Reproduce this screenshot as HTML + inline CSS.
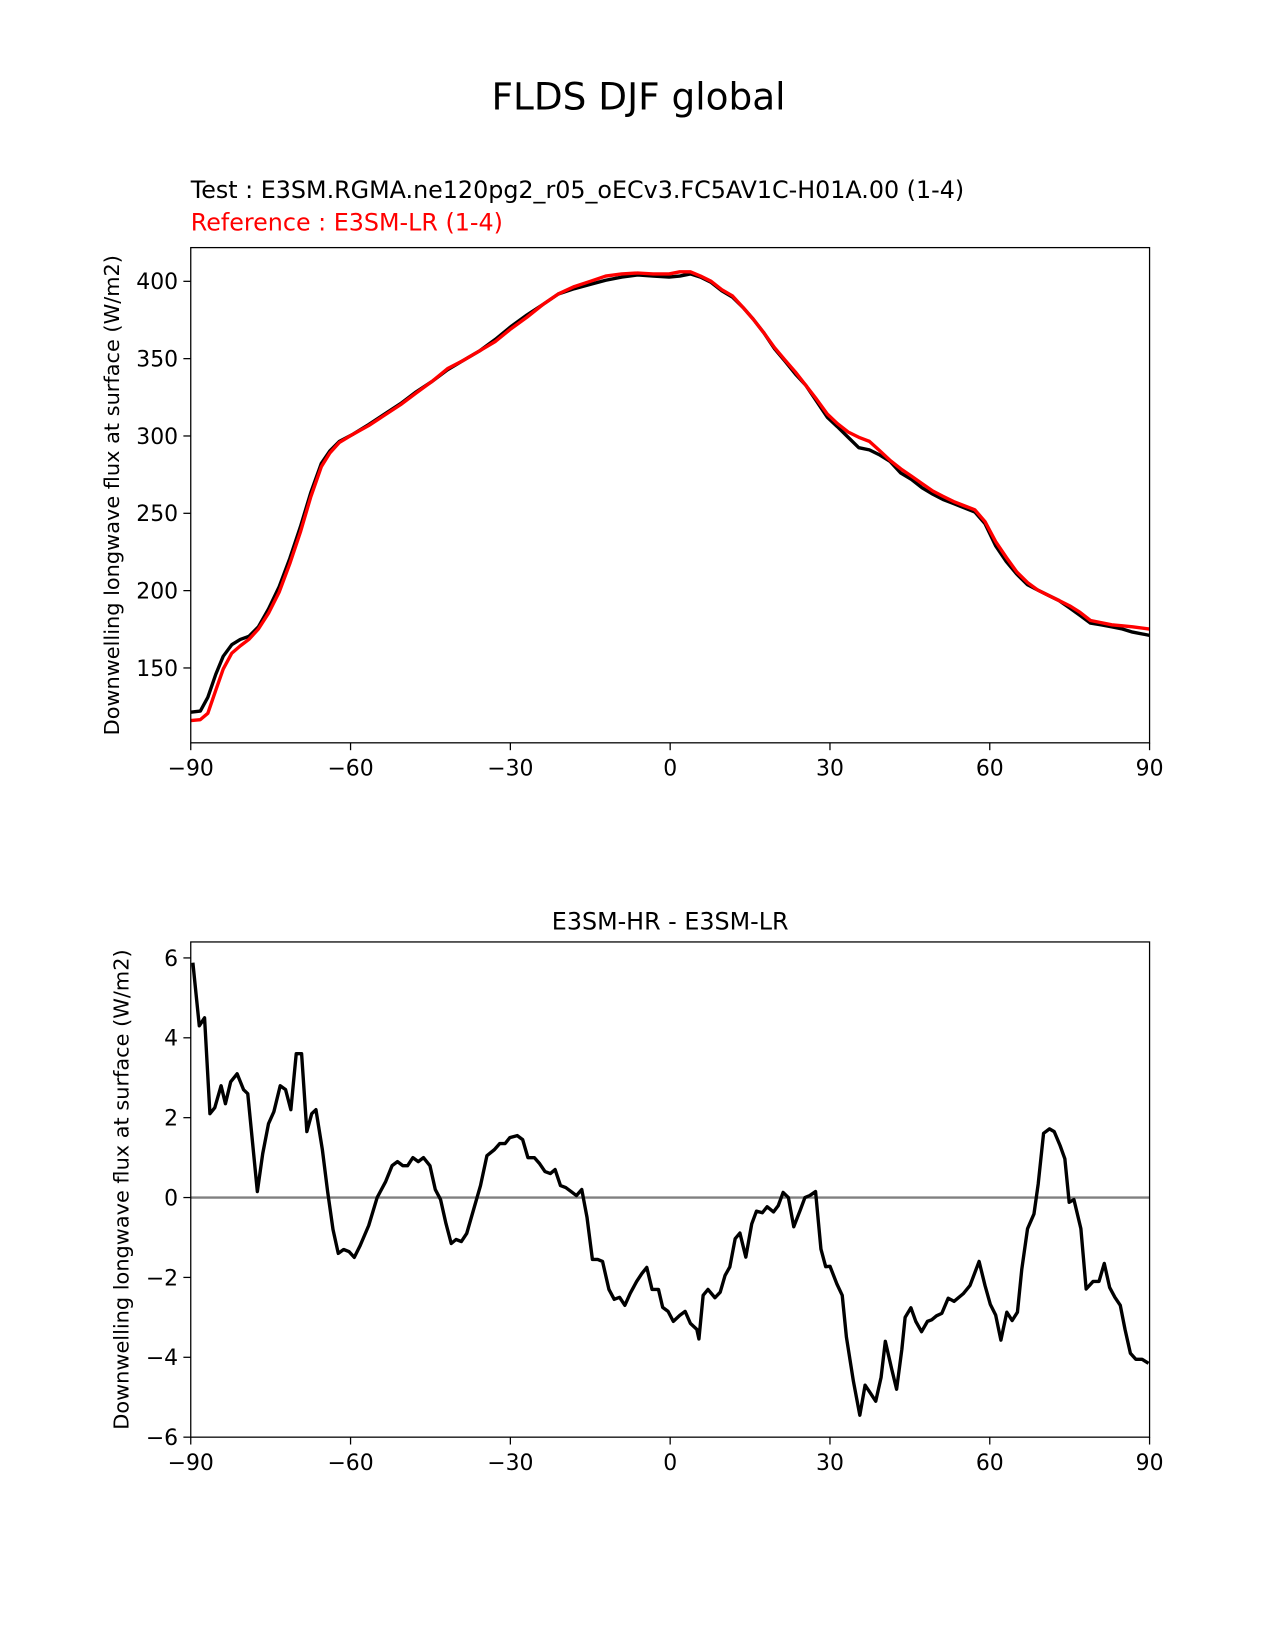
<!DOCTYPE html>
<html><head><meta charset="utf-8"><style>
html,body{margin:0;padding:0;background:#fff}
svg{display:block;font-family:"DejaVu Sans","Liberation Sans",sans-serif}
</style></head><body>
<svg id="fig" width="1275" height="1650" viewBox="0 0 1210 1566">
<rect width="1210" height="1566" fill="#fff"/>
<text x="606" y="104" font-size="35.5" text-anchor="middle">FLDS DJF global</text>
<text x="181" y="188" font-size="22.6">Test : E3SM.RGMA.ne120pg2_r05_oECv3.FC5AV1C-H01A.00 (1-4)</text>
<text x="181" y="219" font-size="22.6" fill="#ff0000">Reference : E3SM-LR (1-4)</text>
<text x="636" y="882" font-size="22.6" text-anchor="middle">E3SM-HR - E3SM-LR</text>
<g id="top"></g>
<g id="bot"></g>
</svg>
<script>
const topLats=[-90,-88.2,-86.8,-85.3,-83.9,-82.3,-80.7,-79.1,-77.3,-75.4,-73.4,-71.4,-69.4,-67.5,-65.5,-63.9,-62.1,-59.5,-56.6,-53.6,-50.6,-47.7,-44.7,-41.8,-38.8,-35.8,-32.8,-29.9,-26.9,-23.9,-21.0,-18.0,-15.0,-12.1,-9.1,-6.1,-3.2,-0.2,1.8,3.8,5.7,7.7,9.7,11.7,13.7,15.6,17.6,19.6,21.6,23.5,25.5,27.5,29.5,31.4,33.4,35.4,37.4,39.4,41.3,43.3,45.3,47.3,49.3,51.2,53.2,55.2,57.2,59.1,61.1,63.1,65.1,67.1,69.0,71.0,73.0,75.0,76.9,78.9,80.9,82.9,84.9,86.8,90];
const testVals=[121.4,122.1,131.0,146.0,157.5,165.0,168.4,170.4,176.6,188.1,202.5,220.8,241.3,263.1,282.2,290.3,296.5,301.2,307.4,314.2,321.0,328.5,335.3,342.8,348.9,355.0,362.5,370.7,378.2,385.0,391.8,395.2,398.0,400.7,402.7,404.1,403.4,402.7,403.4,404.8,402.7,399.3,393.9,389.8,383.0,375.5,366.6,356.4,348.2,340.1,332.6,322.4,312.1,306.0,299.2,292.4,291.0,287.6,283.5,276.0,271.9,266.5,262.4,259.0,256.3,253.5,250.8,243.3,229.0,218.8,210.6,203.8,200.4,197.0,193.6,188.8,184.1,179.0,177.9,176.6,175.2,173.2,171.1];
const refVals=[116.0,116.6,120.7,135.7,149.3,159.5,164.3,168.4,175.2,185.4,199.0,217.4,237.9,260.4,280.1,289.0,295.8,301.2,306.7,313.5,320.3,327.8,335.3,343.5,348.9,355.0,361.2,369.3,376.8,385.0,391.8,396.6,400.0,403.4,404.8,405.4,404.8,404.8,406.1,406.1,403.4,400.0,394.6,390.5,383.0,375.5,366.6,357.1,348.9,341.4,332.6,323.7,314.2,308.0,302.6,299.2,296.5,290.3,284.2,278.7,274.0,269.2,264.4,261.0,257.6,254.9,252.2,244.7,231.7,221.5,212.0,205.2,200.4,197.0,193.6,190.2,186.1,180.7,179.3,177.9,177.2,176.6,175.2];
const diffLats=[-89.6,-88.4,-87.4,-86.4,-85.5,-84.3,-83.5,-82.5,-81.3,-80.1,-79.3,-77.5,-76.5,-75.4,-74.4,-73.2,-72.2,-71.2,-70.2,-69.2,-68.2,-67.3,-66.5,-65.3,-64.3,-63.3,-62.3,-61.3,-60.3,-59.3,-58.2,-56.6,-55.0,-53.4,-52.2,-51.2,-50.2,-49.3,-48.3,-47.3,-46.3,-45.1,-44.1,-43.1,-42.1,-41.1,-40.2,-39.2,-38.2,-37.0,-35.6,-34.4,-33.0,-32.0,-31.0,-30.1,-28.7,-27.7,-26.7,-25.5,-24.5,-23.5,-22.5,-21.6,-20.6,-19.6,-18.6,-17.6,-16.6,-15.6,-14.6,-13.6,-12.7,-11.5,-10.5,-9.5,-8.5,-7.5,-6.3,-5.3,-4.4,-3.4,-2.2,-1.4,-0.4,0.6,1.8,2.8,3.8,5.0,5.4,6.2,7.1,8.4,9.4,10.3,11.2,12.2,13.1,14.2,15.3,16.2,17.3,18.2,19.4,20.3,21.2,22.2,23.2,24.4,25.3,26.2,27.3,28.3,29.2,30.0,31.3,32.3,33.1,34.4,35.6,36.6,37.6,38.6,39.6,40.4,41.6,42.5,43.5,44.1,45.2,46.1,47.2,48.3,49.1,50.0,51.0,52.2,53.3,55.0,56.3,58.0,59.1,60.1,61.1,62.1,63.2,64.2,65.2,66.0,67.1,68.3,69.1,70.1,71.2,72.1,73.2,74.1,74.9,75.8,77.1,78.1,79.4,80.5,81.5,82.5,83.5,84.5,85.4,86.4,87.4,88.6,89.8];
const diffVals=[5.88,4.3,4.5,2.1,2.25,2.8,2.35,2.9,3.1,2.7,2.6,0.15,1.1,1.85,2.15,2.8,2.7,2.2,3.6,3.6,1.65,2.1,2.2,1.2,0.15,-0.8,-1.4,-1.3,-1.35,-1.5,-1.2,-0.7,0,0.4,0.8,0.9,0.8,0.8,1.0,0.9,1.0,0.8,0.2,-0.05,-0.65,-1.15,-1.05,-1.1,-0.9,-0.35,0.3,1.05,1.2,1.35,1.35,1.5,1.55,1.45,1.0,1.0,0.85,0.65,0.6,0.7,0.3,0.25,0.15,0.05,0.2,-0.5,-1.55,-1.55,-1.6,-2.3,-2.55,-2.5,-2.7,-2.4,-2.1,-1.9,-1.75,-2.3,-2.3,-2.75,-2.85,-3.1,-2.95,-2.85,-3.15,-3.3,-3.54,-2.45,-2.3,-2.51,-2.37,-1.95,-1.74,-1.03,-0.89,-1.49,-0.66,-0.34,-0.38,-0.23,-0.36,-0.2,0.13,0.0,-0.73,-0.32,0.0,0.05,0.15,-1.29,-1.73,-1.72,-2.16,-2.45,-3.5,-4.6,-5.45,-4.7,-4.9,-5.1,-4.5,-3.6,-4.3,-4.8,-3.8,-3.0,-2.76,-3.1,-3.36,-3.1,-3.06,-2.96,-2.9,-2.52,-2.6,-2.41,-2.2,-1.6,-2.2,-2.67,-2.94,-3.57,-2.87,-3.08,-2.87,-1.8,-0.78,-0.41,0.34,1.61,1.72,1.65,1.30,0.97,-0.12,-0.05,-0.78,-2.29,-2.1,-2.1,-1.65,-2.25,-2.5,-2.7,-3.3,-3.9,-4.05,-4.05,-4.15];
const xTicks=[-90,-60,-30,0,30,60,90];
const xTickLabels=["\u221290","\u221260","\u221230","0","30","60","90"];
const topYTicks=[150,200,250,300,350,400];
const botYTicks=[-6,-4,-2,0,2,4,6];
const botYTickLabels=["\u22126","\u22124","\u22122","0","2","4","6"];

const NS="http://www.w3.org/2000/svg";
function mk(parent,tag,attrs){const e=document.createElementNS(NS,tag);for(const k in attrs)e.setAttribute(k,attrs[k]);parent.appendChild(e);return e;}
function panel(g,box,ymin,ymax,yTicks,yLabels,yTitle,prefix){
  const xs=v=>box.x0+(v+90)/180*(box.x1-box.x0);
  const ys=v=>box.y1-(v-ymin)/(ymax-ymin)*(box.y1-box.y0);
  xTicks.forEach((t,i)=>{
    const l=mk(g,'line',{x1:xs(t),x2:xs(t),y1:box.y1,y2:box.y1+7,stroke:'#000','stroke-width':1.2});
    
    
    const tx=mk(g,'text',{x:xs(t),y:box.y1+31,'font-size':20.8,'text-anchor':'middle'});
    tx.textContent=xTickLabels[i];
    
    
  });
  yTicks.forEach((t,i)=>{
    const l=mk(g,'line',{x1:box.x0-7,x2:box.x0,y1:ys(t),y2:ys(t),stroke:'#000','stroke-width':1.2});
    
    
    const tx=mk(g,'text',{x:box.x0-12,y:ys(t)+7.5,'font-size':20.8,'text-anchor':'end'});
    tx.textContent=yLabels[i];
    
    
  });
  const cy=(box.y0+box.y1)/2;
  const yt=mk(g,'text',{x:box.tx,y:cy,'font-size':19.8,'text-anchor':'middle',transform:`rotate(-90 ${box.tx} ${cy})`});
  yt.textContent=yTitle;
  
  
  return {xs,ys};
}
function line(g,lats,vals,sc,color,w,name){
  const d=lats.map((la,i)=>(i?'L':'M')+sc.xs(la).toFixed(1)+','+sc.ys(vals[i]).toFixed(1)).join('');
  const p=mk(g,'path',{d:d,fill:'none',stroke:color,'stroke-width':w,'stroke-linejoin':'round'});
  
  
}
const T=document.getElementById('top');
const tb={x0:181,x1:1091,y0:235,y1:705,tx:113};
const ts=panel(T,tb,101.6,421.8,topYTicks,topYTicks.map(String),'Downwelling longwave flux at surface (W/m2)','top-');
const clip=mk(T,'clipPath',{id:'c1'});mk(clip,'rect',{x:tb.x0,y:tb.y0,width:tb.x1-tb.x0,height:tb.y1-tb.y0});
const TL=mk(T,'g',{'clip-path':'url(#c1)'});
line(TL,topLats,testVals,ts,'#000',3.2,'test-line');
line(TL,topLats,refVals,ts,'#ff0000',3.2,'reference-line');
const f1=mk(T,'rect',{x:tb.x0,y:tb.y0,width:tb.x1-tb.x0,height:tb.y1-tb.y0,fill:'none',stroke:'#000','stroke-width':1.2});



const B=document.getElementById('bot');
const bb={x0:181,x1:1091,y0:894,y1:1364,tx:122};
const bs=panel(B,bb,-6,6.4,botYTicks,botYTickLabels,'Downwelling longwave flux at surface (W/m2)','diff-');
const zl=mk(B,'line',{x1:bb.x0,x2:bb.x1,y1:bs.ys(0),y2:bs.ys(0),stroke:'#808080','stroke-width':2.2});


line(B,diffLats,diffVals,bs,'#000',3.2,'diff-line');
const f2=mk(B,'rect',{x:bb.x0,y:bb.y0,width:bb.x1-bb.x0,height:bb.y1-bb.y0,fill:'none',stroke:'#000','stroke-width':1.2});


</script>
</body></html>
